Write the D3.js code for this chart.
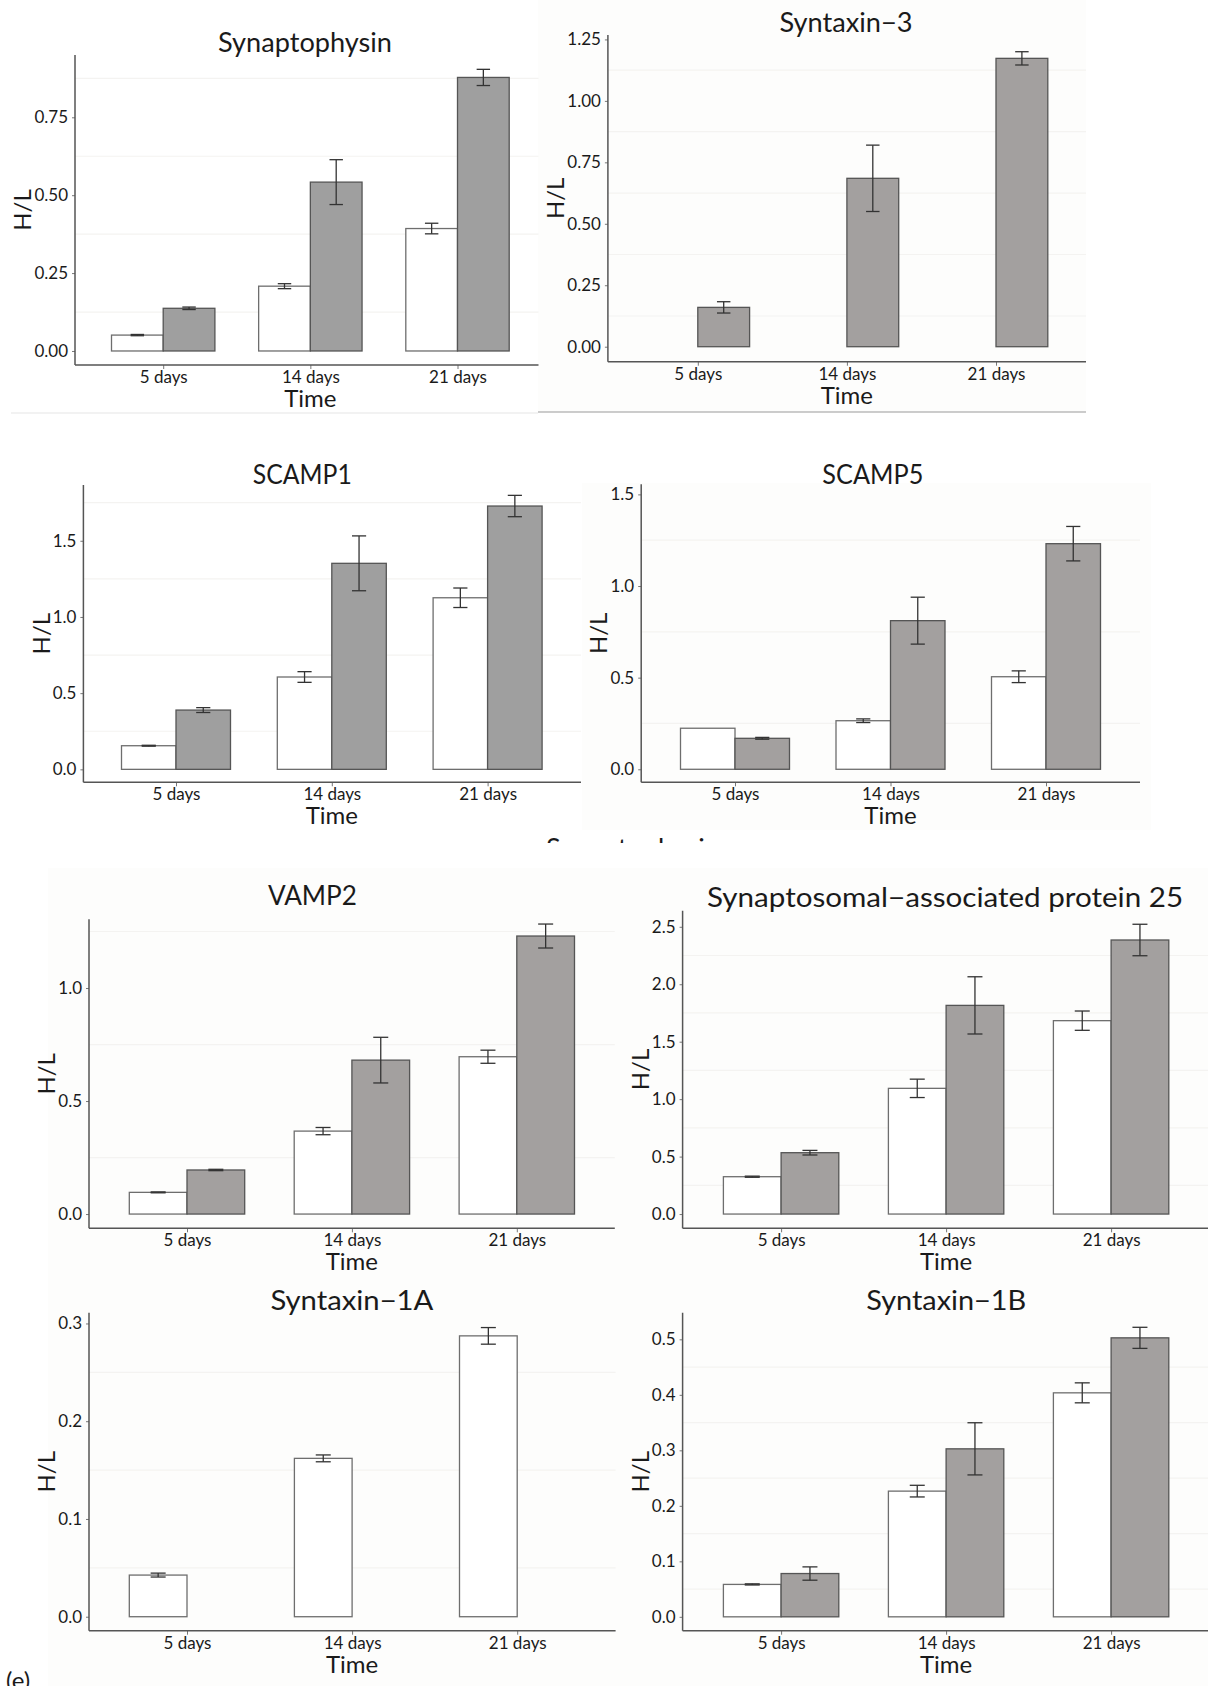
<!DOCTYPE html>
<html>
<head>
<meta charset="utf-8">
<script src="https://cdn.jsdelivr.net/npm/d3@7"></script>
<style>
  body { margin: 0; background: #ffffff; }
  svg { display: block; }
  text { font-family: Lato, "Open Sans", "Noto Sans", sans-serif; fill: #1a1a1a; }
</style>
</head>
<body>
<svg id="fig" width="1208" height="1686"></svg>
<script>
// Time points shared by every panel
const categories = ["5 days", "14 days", "21 days"];

// H/L ratios (mean and half-width of the error bar); "open" = white bars, "filled" = grey bars
const sypOpen = [0.051, 0.208, 0.393];
const sypOpenErr = [0.002, 0.008, 0.017];
const sypFilled = [0.137, 0.542, 0.878];
const sypFilledErr = [0.004, 0.072, 0.026];

const stx3Filled = [0.160, 0.685, 1.173];
const stx3FilledErr = [0.023, 0.135, 0.027];

const scamp1Open = [0.155, 0.606, 1.126];
const scamp1OpenErr = [0.003, 0.035, 0.064];
const scamp1Filled = [0.389, 1.352, 1.728];
const scamp1FilledErr = [0.016, 0.180, 0.070];

const scamp5Open = [0.224, 0.265, 0.505];
const scamp5OpenErr = [0.0, 0.010, 0.032];
const scamp5Filled = [0.169, 0.811, 1.231];
const scamp5FilledErr = [0.005, 0.128, 0.094];

const vamp2Open = [0.096, 0.367, 0.696];
const vamp2OpenErr = [0.002, 0.016, 0.029];
const vamp2Filled = [0.195, 0.681, 1.230];
const vamp2FilledErr = [0.003, 0.101, 0.053];

const snap25Open = [0.325, 1.094, 1.683];
const snap25OpenErr = [0.005, 0.080, 0.084];
const snap25Filled = [0.534, 1.816, 2.385];
const snap25FilledErr = [0.020, 0.249, 0.137];

const stx1aOpen = [0.0426, 0.162, 0.2873];
const stx1aOpenErr = [0.002, 0.0035, 0.0085];

const stx1bOpen = [0.0584, 0.2265, 0.4036];
const stx1bOpenErr = [0.001, 0.0105, 0.018];
const stx1bFilled = [0.078, 0.3027, 0.5027];
const stx1bFilledErr = [0.012, 0.047, 0.019];

// Y-axis ticks per panel
const ticksSyp = [0, 0.25, 0.5, 0.75];
const ticksStx3 = [0, 0.25, 0.5, 0.75, 1.0, 1.25];
const ticksScamp1 = [0, 0.5, 1.0, 1.5];
const ticksScamp5 = [0, 0.5, 1.0, 1.5];
const ticksVamp2 = [0, 0.5, 1.0];
const ticksSnap25 = [0, 0.5, 1.0, 1.5, 2.0, 2.5];
const ticksStx1a = [0, 0.1, 0.2, 0.3];
const ticksStx1b = [0, 0.1, 0.2, 0.3, 0.4, 0.5];

const svg = d3.select("#fig");

// Off-white plotting backgrounds
const backgrounds = [
  [538, 0, 548, 412],
  [582, 483, 569, 347],
  [48, 868, 1160, 818]
];
svg.selectAll("rect.bg").data(backgrounds).join("rect")
  .attr("class", "bg")
  .attr("x", d => d[0]).attr("y", d => d[1])
  .attr("width", d => d[2]).attr("height", d => d[3])
  .attr("fill", "#fdfdfc");

// Thin separators under the top row
svg.append("line").attr("x1", 11).attr("x2", 538).attr("y1", 413).attr("y2", 413)
  .attr("stroke", "#e6e6e6").attr("stroke-width", 1.2);
svg.append("line").attr("x1", 538).attr("x2", 1086).attr("y1", 412).attr("y2", 412)
  .attr("stroke", "#9a9a9a").attr("stroke-width", 1.2);

const panels = [
  { title: "Synaptophysin", open: sypOpen, openErr: sypOpenErr, filled: sypFilled, filledErr: sypFilledErr,
    domain: [-0.045, 0.950], ticks: ticksSyp, fmt: ".2f", minorStep: 0.125, fill: "#9f9f9f",
    L: { x0: 75, x1: 538.5, c0: 163.2, c2: 457.5, bw: 51.7, top: 55, bottom: 365, tx: 305, ty: 52, tw: 174 } },
  { title: "Syntaxin\u22123", open: null, openErr: null, filled: stx3Filled, filledErr: stx3FilledErr,
    domain: [-0.061, 1.268], ticks: ticksStx3, fmt: ".2f", minorStep: 0.125, fill: "#a3a09f",
    L: { x0: 607.9, x1: 1086, c0: 697.8, c2: 996, bw: 51.8, top: 35, bottom: 361.7, tx: 846, ty: 32, tw: 133 } },
  { title: "SCAMP1", open: scamp1Open, openErr: scamp1OpenErr, filled: scamp1Filled, filledErr: scamp1FilledErr,
    domain: [-0.085, 1.866], ticks: ticksScamp1, fmt: ".1f", minorStep: 0.25, fill: "#9f9f9f",
    L: { x0: 83.4, x1: 581, c0: 176, c2: 487.6, bw: 54.5, top: 485, bottom: 782.3, tx: 302.3, ty: 484, tw: 99 } },
  { title: "SCAMP5", open: scamp5Open, openErr: scamp5OpenErr, filled: scamp5Filled, filledErr: scamp5FilledErr,
    domain: [-0.071, 1.555], ticks: ticksScamp5, fmt: ".1f", minorStep: 0.25, fill: "#a3a09f",
    L: { x0: 641.2, x1: 1140, c0: 735, c2: 1046, bw: 54.5, top: 484.3, bottom: 782.3, tx: 872.8, ty: 484, tw: 101 } },
  { title: "VAMP2", open: vamp2Open, openErr: vamp2OpenErr, filled: vamp2Filled, filledErr: vamp2FilledErr,
    domain: [-0.063, 1.304], ticks: ticksVamp2, fmt: ".1f", minorStep: 0.25, fill: "#a3a09f",
    L: { x0: 89, x1: 614.8, c0: 187, c2: 516.8, bw: 57.7, top: 919.3, bottom: 1228.3, tx: 312.4, ty: 905, tw: 89 } },
  { title: "Synaptosomal\u2212associated protein 25", open: snap25Open, openErr: snap25OpenErr, filled: snap25Filled, filledErr: snap25FilledErr,
    domain: [-0.124, 2.640], ticks: ticksSnap25, fmt: ".1f", minorStep: 0.25, fill: "#a3a09f",
    L: { x0: 682.6, x1: 1208, c0: 781.1, c2: 1111.1, bw: 57.7, top: 910.7, bottom: 1228.3, tx: 945.1, ty: 906.7, tw: 476 } },
  { title: "Syntaxin\u22121A", open: stx1aOpen, openErr: stx1aOpenErr, filled: null, filledErr: null,
    domain: [-0.0143, 0.311], ticks: ticksStx1a, fmt: ".1f", minorStep: 0.05, fill: "#a3a09f",
    L: { x0: 89, x1: 615.6, c0: 187, c2: 517.2, bw: 57.7, top: 1312.7, bottom: 1630.7, tx: 351.9, ty: 1310, tw: 163 } },
  { title: "Syntaxin\u22121B", open: stx1bOpen, openErr: stx1bOpenErr, filled: stx1bFilled, filledErr: stx1bFilledErr,
    domain: [-0.025, 0.548], ticks: ticksStx1b, fmt: ".1f", minorStep: 0.05, fill: "#a3a09f",
    L: { x0: 682.6, x1: 1208, c0: 781.1, c2: 1111.1, bw: 57.7, top: 1312.7, bottom: 1630.7, tx: 946.3, ty: 1310, tw: 160 } }
];

panels.forEach(p => {
  const L = p.L;
  const g = svg.append("g");
  const x = d3.scalePoint().domain(categories).range([L.c0, L.c2]);
  const y = d3.scaleLinear().domain(p.domain).range([L.bottom, L.top]);

  // faint minor grid lines between the labelled ticks
  const minor = d3.range(p.minorStep, p.domain[1], p.minorStep * 2);
  g.selectAll("line.grid").data(minor).join("line")
    .attr("x1", L.x0).attr("x2", L.x1)
    .attr("y1", d => y(d)).attr("y2", d => y(d))
    .attr("stroke", "#f4f3f1").attr("stroke-width", 1.2);

  // bar rows: one record per category and series
  const rows = [];
  categories.forEach((c, i) => {
    if (p.open) rows.push({ c, v: p.open[i], e: p.openErr[i], side: -1 });
    if (p.filled) rows.push({ c, v: p.filled[i], e: p.filledErr[i], side: 1 });
  });

  g.selectAll("rect.bar").data(rows).join("rect")
    .attr("x", d => d.side < 0 ? x(d.c) - L.bw : x(d.c))
    .attr("y", d => y(d.v))
    .attr("width", L.bw)
    .attr("height", d => y(0) - y(d.v))
    .attr("fill", d => d.side < 0 ? "#ffffff" : p.fill)
    .attr("stroke", d => d.side < 0 ? "#6e6e6e" : "#555555")
    .attr("stroke-width", 1.3);

  // error bars
  const cap = L.bw * 0.26;
  const eb = g.selectAll("g.err").data(rows.filter(d => d.e > 0)).join("g");
  const cx = d => x(d.c) + d.side * L.bw / 2;
  eb.append("line").attr("x1", cx).attr("x2", cx)
    .attr("y1", d => y(d.v + d.e)).attr("y2", d => y(d.v - d.e));
  eb.append("line").attr("x1", d => cx(d) - cap / 2).attr("x2", d => cx(d) + cap / 2)
    .attr("y1", d => y(d.v + d.e)).attr("y2", d => y(d.v + d.e));
  eb.append("line").attr("x1", d => cx(d) - cap / 2).attr("x2", d => cx(d) + cap / 2)
    .attr("y1", d => y(d.v - d.e)).attr("y2", d => y(d.v - d.e));
  eb.selectAll("line").attr("stroke", "#333333").attr("stroke-width", 1.3);

  // axes
  const ya = g.append("g").attr("transform", `translate(${L.x0},0)`)
    .call(d3.axisLeft(y).tickValues(p.ticks).tickFormat(d3.format(p.fmt)).tickSize(3).tickPadding(4));
  const xa = g.append("g").attr("transform", `translate(0,${L.bottom})`)
    .call(d3.axisBottom(x).tickSize(4).tickPadding(2));
  [ya, xa].forEach(a => {
    a.select(".domain").remove();
    a.selectAll(".tick line").attr("stroke", "#777").attr("stroke-width", 1);
    a.selectAll(".tick text").style("font-size", "17px").attr("fill", "#1a1a1a");
  });
  g.append("line").attr("x1", L.x0).attr("x2", L.x0).attr("y1", L.top).attr("y2", L.bottom)
    .attr("stroke", "#555").attr("stroke-width", 1.5);
  g.append("line").attr("x1", L.x0).attr("x2", L.x1).attr("y1", L.bottom).attr("y2", L.bottom)
    .attr("stroke", "#555").attr("stroke-width", 1.5);

  // axis titles
  let maxW = 0;
  ya.selectAll(".tick text").each(function () { maxW = Math.max(maxW, this.getComputedTextLength()); });
  g.append("text")
    .attr("transform", `translate(${L.x0 - 10 - maxW},${(L.top + L.bottom) / 2}) rotate(-90)`)
    .attr("text-anchor", "middle")
    .style("font-size", "24px")
    .text("H/L");
  g.append("text")
    .attr("x", x(categories[1])).attr("y", L.bottom + 42)
    .attr("text-anchor", "middle")
    .style("font-size", "24px")
    .text("Time");

  // panel title
  g.append("text")
    .attr("x", L.tx - L.tw / 2).attr("y", L.ty)
    .attr("textLength", L.tw).attr("lengthAdjust", "spacingAndGlyphs")
    .style("font-size", "26px")
    .text(p.title);
});

// cut-off heading between the middle panels (only its top edge remains visible)
svg.append("clipPath").attr("id", "stray").append("rect")
  .attr("x", 530).attr("y", 837).attr("width", 200).attr("height", 6);
svg.append("text")
  .attr("clip-path", "url(#stray)")
  .attr("x", 546).attr("y", 858)
  .attr("textLength", 174).attr("lengthAdjust", "spacingAndGlyphs")
  .style("font-size", "26px")
  .text("Synaptophysin");

// figure part label, cropped at the bottom edge
svg.append("text")
  .attr("x", 6).attr("y", 1689)
  .style("font-size", "24px")
  .text("(e)");
</script>
</body>
</html>
